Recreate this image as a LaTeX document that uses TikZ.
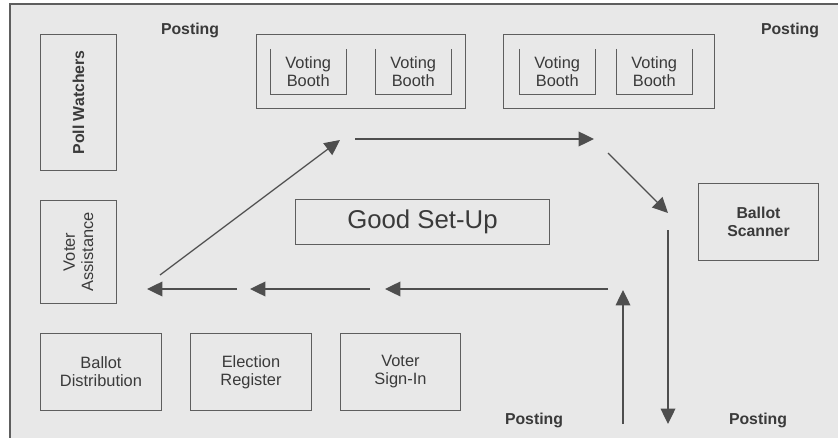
\documentclass[tikz,border=0pt]{standalone}
\usepackage{fontspec}
\setmainfont{Liberation Sans}
\usetikzlibrary{arrows.meta}
\definecolor{lignes}{HTML}{5E5E5E}
\definecolor{fleches}{HTML}{4E4E4E}
\definecolor{texte}{HTML}{3A3A3A}
\tikzstyle{poste} = [rectangle, draw=lignes, line width=0.8pt, text=texte, align=center, inner sep=0pt, font=\fontsize{14}{15.5}\selectfont]
\tikzstyle{isoloir} = [rectangle, text=texte, align=center, inner sep=0pt, minimum width=2.28cm, minimum height=1.35cm, font=\fontsize{14}{15.5}\selectfont]
\tikzstyle{affiche} = [text=texte, font=\fontsize{13.5}{15}\selectfont\bfseries]
\tikzstyle{fleche} = [draw=fleches, line width=1.1pt, -{Triangle[length=0.46cm, width=0.44cm]}]

\begin{document}
\begin{tikzpicture}
                \useasboundingbox (0,0) rectangle (25.14,-13.14);
                \clip (0,0) rectangle (25.14,-13.14);
                \fill[black!9] (0.3,-0.12) rectangle (25.6,-13.6);
                \draw[lignes, line width=1.6pt] (0.3,-13.6) |- (25.6,-0.12);

                % tables le long du mur gauche
                \node (surveillants) [poste, anchor=north west, minimum width=2.28cm, minimum height=4.08cm] at (1.2,-1.02) {};
                \node [affiche, rotate=90] at (surveillants.center) {Poll Watchers};
                \node (assistance) [poste, anchor=north west, minimum width=2.28cm, minimum height=3.09cm] at (1.2,-6.0) {};
                \node [rotate=90, align=center, text=texte, font=\fontsize{14}{15.5}\selectfont] at (assistance.center) {Voter\\Assistance};

                % isoloirs
                \node (groupeA) [poste, anchor=north west, minimum width=6.27cm, minimum height=2.22cm] at (7.68,-1.02) {};
                \node (groupeB) [poste, anchor=north west, minimum width=6.33cm, minimum height=2.22cm] at (15.09,-1.02) {};
                \node (isoloir1) [isoloir, anchor=north west] at (8.1,-1.47) {Voting\\Booth};
                \node (isoloir2) [isoloir, anchor=north west] at (11.25,-1.47) {Voting\\Booth};
                \node (isoloir3) [isoloir, anchor=north west] at (15.57,-1.47) {Voting\\Booth};
                \node (isoloir4) [isoloir, anchor=north west] at (18.48,-1.47) {Voting\\Booth};
                \draw[lignes, line width=0.8pt] (isoloir1.north west) |- (isoloir1.south east) -- (isoloir1.north east);
                \draw[lignes, line width=0.8pt] (isoloir2.north west) |- (isoloir2.south east) -- (isoloir2.north east);
                \draw[lignes, line width=0.8pt] (isoloir3.north west) |- (isoloir3.south east) -- (isoloir3.north east);
                \draw[lignes, line width=0.8pt] (isoloir4.north west) |- (isoloir4.south east) -- (isoloir4.north east);

                \node (titre) [poste, anchor=north west, minimum width=7.62cm, minimum height=1.35cm, font=\fontsize{22}{24}\selectfont] at (8.85,-5.97) {Good Set-Up};
                \node (scanner) [poste, anchor=north west, minimum width=3.6cm, minimum height=2.31cm, font=\fontsize{13.5}{15.5}\selectfont\bfseries] at (20.94,-5.49) {Ballot\\Scanner};

                % tables d'accueil
                \node (distribution) [poste, anchor=north west, minimum width=3.63cm, minimum height=2.31cm] at (1.2,-9.99) {Ballot\\Distribution};
                \node (registre) [poste, anchor=north west, minimum width=3.63cm, minimum height=2.31cm] at (5.7,-9.99) {Election\\Register};
                \node (emargement) [poste, anchor=north west, minimum width=3.6cm, minimum height=2.31cm] at (10.2,-9.99) {Voter\\Sign-In};

                \node (afficheA) [affiche] at (5.7,-0.9) {Posting};
                \node (afficheB) [affiche] at (23.7,-0.9) {Posting};
                \node (afficheC) [affiche] at (16.02,-12.6) {Posting};
                \node (afficheD) [affiche] at (22.74,-12.6) {Posting};

                % circuit de l'electeur
                \coordinate (entree) at (18.69,-12.72);
                \coordinate (virage) at (18.69,-8.7);
                \coordinate (g1) at (18.24,-8.67);
                \coordinate (g2) at (11.55,-8.67);
                \coordinate (g3) at (11.1,-8.67);
                \coordinate (g4) at (7.5,-8.67);
                \coordinate (g5) at (7.11,-8.67);
                \coordinate (g6) at (4.41,-8.67);
                \coordinate (monte) at (4.8,-8.25);
                \coordinate (haut) at (10.2,-4.2);
                \coordinate (h1) at (10.65,-4.17);
                \coordinate (h2) at (17.82,-4.17);
                \coordinate (d1) at (18.24,-4.59);
                \coordinate (d2) at (20.04,-6.39);
                \coordinate (sortie) at (20.04,-6.9);
                \coordinate (fin) at (20.04,-12.72);

                \draw[fleche] (entree) -- (virage);
                \draw[fleche] (g1) -- (g2);
                \draw[fleche] (g3) -- (g4);
                \draw[fleche] (g5) -- (g6);
                \draw[fleche] (monte) -- (haut);
                \draw[fleche] (h1) -- (h2);
                \draw[fleche] (d1) -- (d2);
                \draw[fleche] (sortie) -- (fin);
            \end{tikzpicture}
\end{document}
